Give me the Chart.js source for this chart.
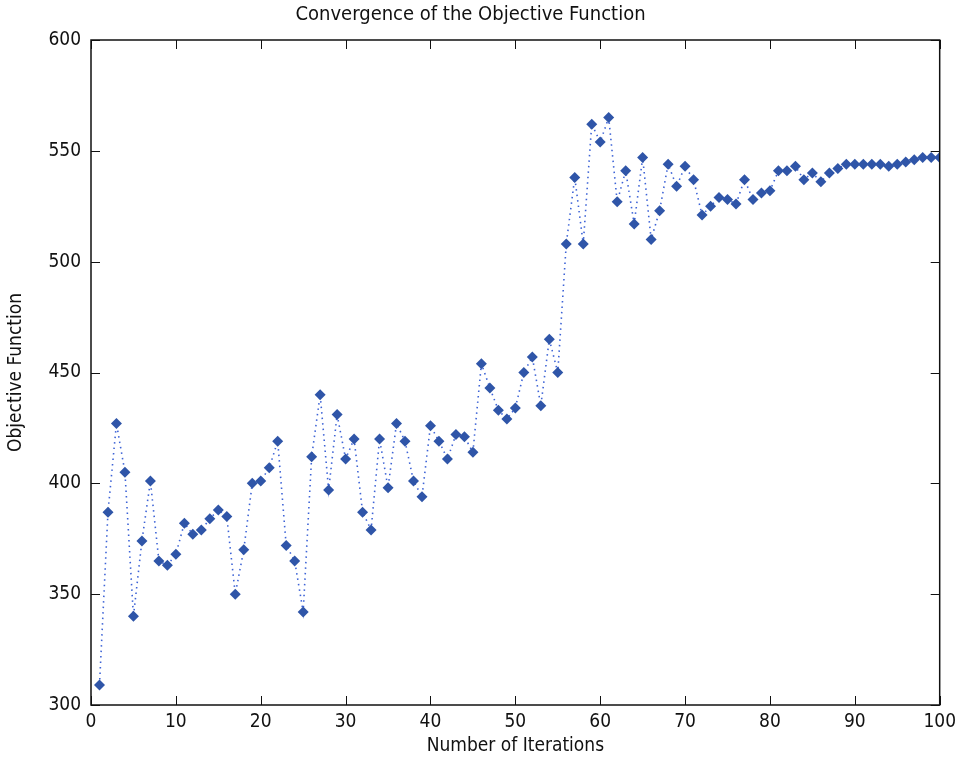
<!DOCTYPE html>
<html>
<head>
<meta charset="utf-8">
<script src="https://cdn.jsdelivr.net/npm/chart.js@4/dist/chart.umd.min.js"></script>
<style>
  html, body { margin: 0; padding: 0; background: #fff; }
  #wrap { width: 962px; height: 761px; }
</style>
</head>
<body>
<div id="wrap"><canvas id="convChart"></canvas></div>
<script>
const iterations = [
  1, 2, 3, 4, 5, 6, 7, 8, 9, 10,
  11, 12, 13, 14, 15, 16, 17, 18, 19, 20,
  21, 22, 23, 24, 25, 26, 27, 28, 29, 30,
  31, 32, 33, 34, 35, 36, 37, 38, 39, 40,
  41, 42, 43, 44, 45, 46, 47, 48, 49, 50,
  51, 52, 53, 54, 55, 56, 57, 58, 59, 60,
  61, 62, 63, 64, 65, 66, 67, 68, 69, 70,
  71, 72, 73, 74, 75, 76, 77, 78, 79, 80,
  81, 82, 83, 84, 85, 86, 87, 88, 89, 90,
  91, 92, 93, 94, 95, 96, 97, 98, 99, 100
];
const objective = [
  309, 387, 427, 405, 340, 374, 401, 365, 363, 368,
  382, 377, 379, 384, 388, 385, 350, 370, 400, 401,
  407, 419, 372, 365, 342, 412, 440, 397, 431, 411,
  420, 387, 379, 420, 398, 427, 419, 401, 394, 426,
  419, 411, 422, 421, 414, 454, 443, 433, 429, 434,
  450, 457, 435, 465, 450, 508, 538, 508, 562, 554,
  565, 527, 541, 517, 547, 510, 523, 544, 534, 543,
  537, 521, 525, 529, 528, 526, 537, 528, 531, 532,
  541, 541, 543, 537, 540, 536, 540, 542, 544, 544,
  544, 544, 544, 543, 544, 545, 546, 547, 547, 547
];
const xTicks = [0, 10, 20, 30, 40, 50, 60, 70, 80, 90, 100];
const yTicks = [300, 350, 400, 450, 500, 550, 600];

const fontFam = '"DejaVu Sans Condensed", "Liberation Sans Narrow", "Liberation Sans", sans-serif';

// matlab style box with ticks pointing inwards
const boxTicks = {
  id: 'boxTicks',
  afterDraw(chart) {
    const { ctx, chartArea: a, scales } = chart;
    const len = 9;
    ctx.save();
    ctx.strokeStyle = '#111';
    ctx.lineWidth = 1.5;
    ctx.strokeRect(a.left, a.top, a.right - a.left, a.bottom - a.top);
    ctx.lineWidth = 1;
    ctx.beginPath();
    xTicks.forEach(v => {
      const px = Math.round(scales.x.getPixelForValue(v)) + 0.5;
      ctx.moveTo(px, a.bottom); ctx.lineTo(px, a.bottom - len);
      ctx.moveTo(px, a.top); ctx.lineTo(px, a.top + len);
    });
    yTicks.forEach(v => {
      const py = Math.round(scales.y.getPixelForValue(v)) + 0.5;
      ctx.moveTo(a.left, py); ctx.lineTo(a.left + len, py);
      ctx.moveTo(a.right, py); ctx.lineTo(a.right - len, py);
    });
    ctx.stroke();
    ctx.restore();
  }
};

const ctx = document.getElementById('convChart');

new Chart(ctx, {
  type: 'line',
  data: {
    labels: iterations,
    datasets: [{
      label: 'Objective Function',
      data: iterations.map((it, i) => ({ x: it, y: objective[i] })),
      borderColor: '#3d63d6',
      borderWidth: 1.6,
      borderDash: [1.5, 4],
      backgroundColor: '#2f55a8',
      pointStyle: 'rectRot',
      pointRadius: 5.5,
      pointBorderWidth: 0,
      pointBackgroundColor: '#2f55a8',
      tension: 0
    }]
  },
  options: {
    responsive: true,
    maintainAspectRatio: false,
    animation: false,
    layout: { padding: { left: 0, right: 21, top: 0, bottom: 0 } },
    plugins: {
      legend: { display: false },
      tooltip: { enabled: false },
      title: {
        display: true,
        text: 'Convergence of the Objective Function',
        color: '#111',
        font: { family: fontFam, size: 20, weight: 'normal', lineHeight: 1.1 },
        padding: { top: 4, bottom: 14 }
      }
    },
    scales: {
      x: {
        type: 'linear',
        min: 0,
        max: 100,
        afterFit: s => { s.height = 56; },
        afterBuildTicks: s => { s.ticks = xTicks.map(v => ({ value: v })); },
        grid: { display: false, drawTicks: false },
        border: { display: false },
        ticks: { color: '#111', padding: 6, font: { family: fontFam, size: 19 } },
        title: {
          display: true,
          text: 'Number of Iterations',
          color: '#111',
          font: { family: fontFam, size: 19, lineHeight: 1.1 },
          padding: { top: 4 }
        }
      },
      y: {
        min: 300,
        max: 600,
        afterFit: s => { s.width = 91; },
        afterBuildTicks: s => { s.ticks = yTicks.map(v => ({ value: v })); },
        grid: { display: false, drawTicks: false },
        border: { display: false },
        ticks: { color: '#111', padding: 10, font: { family: fontFam, size: 19 } },
        title: {
          display: true,
          text: 'Objective Function',
          color: '#111',
          font: { family: fontFam, size: 19, lineHeight: 1.1 },
          padding: { top: 6, bottom: 4 }
        }
      }
    }
  },
  plugins: [boxTicks]
});
</script>
</body>
</html>
